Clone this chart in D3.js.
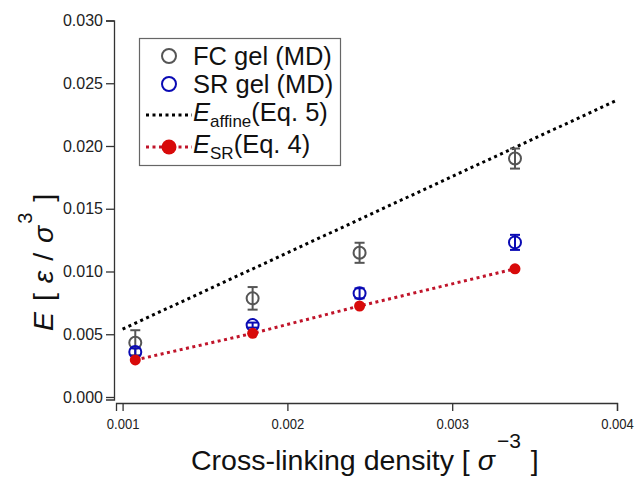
<!DOCTYPE html>
<html>
<head>
<meta charset="utf-8">
<script src="https://cdn.jsdelivr.net/npm/d3@7"></script>
<style>
  html, body { margin: 0; padding: 0; background: #fff; }
  svg { display: block; }
  text { font-family: Arial, "Liberation Sans", sans-serif; }
  .xax text { font-size: 15px; }
  .yax text { font-size: 16px; }
</style>
</head>
<body>
<svg id="chart" width="638" height="479"></svg>
<script>
// ---- data ----
const densities = [0.001077, 0.001789, 0.002438, 0.003381];
const fcGelE    = [0.00432, 0.00786, 0.01149, 0.01900];
const fcGelErr  = [0.00100, 0.00090, 0.00080, 0.00080];
const srGelE    = [0.00358, 0.00573, 0.00826, 0.01232];
const srGelErr  = [0.00030, 0.00020, 0.00040, 0.00060];
const eSR       = [0.00295, 0.00507, 0.00725, 0.01021];
const affineX   = [0.001, 0.004];
const affineY   = [0.00541, 0.02365];
const xTicks    = [0.001, 0.002, 0.003, 0.004];
const yTicks    = [0.000, 0.005, 0.010, 0.015, 0.020, 0.025, 0.030];
const legendLabels = ["FC gel (MD)", "SR gel (MD)"];

const svg = d3.select("#chart");
const x = d3.scaleLinear().domain([0.00096, 0.004]).range([116, 617]);
const y = d3.scaleLinear().domain([-0.0002, 0.030]).range([399.5, 20.5]);

const grayC = "#555555", blueC = "#0a0ab4", redLine = "#c0142a", redDot = "#d80a0a";

// axes
const xAxis = d3.axisBottom(x).tickValues(xTicks).tickFormat(d3.format(".3f")).tickSizeOuter(0).tickSize(8).tickPadding(7);
const gx = svg.append("g").attr("class", "xax").attr("transform", "translate(0,403)").call(xAxis);
gx.selectAll("text").style("font-size", "15px").attr("fill", "#222").attr("transform", "scale(0.87,1)");

const yAxis = d3.axisLeft(y).tickValues(yTicks).tickFormat(d3.format(".3f")).tickSizeOuter(0).tickSize(8).tickPadding(3);
const gy = svg.append("g").attr("class", "yax").attr("transform", "translate(114,0)").call(yAxis);
gy.selectAll("text").style("font-size", "16px").attr("fill", "#222");
[gx, gy].forEach(g => {
  g.select(".domain").attr("stroke", "#333").attr("stroke-width", 1.3);
  g.selectAll(".tick line").attr("stroke", "#333").attr("stroke-width", 1.3);
});

// affine dotted line
svg.append("path")
  .datum(affineX.map((d, i) => [d, affineY[i]]))
  .attr("d", d3.line().x(d => x(d[0])).y(d => y(d[1])))
  .attr("fill", "none").attr("stroke", "#000").attr("stroke-width", 3)
  .attr("stroke-dasharray", "3,3.5");

// error bars + circles
function series(vals, errs, color) {
  const g = svg.append("g");
  vals.forEach((v, i) => {
    const cx = x(densities[i]);
    const y1 = y(v + errs[i]), y2 = y(v - errs[i]);
    g.append("line").attr("x1", cx).attr("x2", cx).attr("y1", y1).attr("y2", y2).attr("stroke", color).attr("stroke-width", 2);
    [y1, y2].forEach(yy => g.append("line").attr("x1", cx - 5).attr("x2", cx + 5).attr("y1", yy).attr("y2", yy).attr("stroke", color).attr("stroke-width", 2));
    g.append("circle").attr("cx", cx).attr("cy", y(v)).attr("r", 6).attr("fill", "none").attr("stroke", color).attr("stroke-width", 2);
  });
}
series(fcGelE, fcGelErr, grayC);
series(srGelE, srGelErr, blueC);

// E_SR dotted line with filled markers
svg.append("path")
  .datum(densities.map((d, i) => [d, eSR[i]]))
  .attr("d", d3.line().x(d => x(d[0])).y(d => y(d[1])))
  .attr("fill", "none").attr("stroke", redLine).attr("stroke-width", 3)
  .attr("stroke-dasharray", "3,3.5");
svg.append("g").selectAll("circle").data(eSR).join("circle")
  .attr("cx", (d, i) => x(densities[i])).attr("cy", d => y(d)).attr("r", 5.5).attr("fill", redDot);

// legend
const lg = svg.append("g");
lg.append("rect").attr("x", 139.5).attr("y", 38.5).attr("width", 201).attr("height", 127)
  .attr("fill", "#fff").attr("stroke", "#666").attr("stroke-width", 1.2);
const rowsY = [56, 84, 115, 147];
const symX = 169, txtX = 193, fs = 25.5, sfs = 17;
lg.append("circle").attr("cx", symX).attr("cy", rowsY[0]).attr("r", 7).attr("fill", "none").attr("stroke", grayC).attr("stroke-width", 2);
lg.append("circle").attr("cx", symX).attr("cy", rowsY[1]).attr("r", 7).attr("fill", "none").attr("stroke", blueC).attr("stroke-width", 2);
lg.append("line").attr("x1", 146).attr("x2", 192).attr("y1", rowsY[2]).attr("y2", rowsY[2])
  .attr("stroke", "#000").attr("stroke-width", 3).attr("stroke-dasharray", "3,3.5");
lg.append("line").attr("x1", 146).attr("x2", 192).attr("y1", rowsY[3]).attr("y2", rowsY[3])
  .attr("stroke", redLine).attr("stroke-width", 3).attr("stroke-dasharray", "3,3.5");
lg.append("circle").attr("cx", symX).attr("cy", rowsY[3]).attr("r", 7.5).attr("fill", redDot);

legendLabels.forEach((t, i) => {
  lg.append("text").attr("x", txtX).attr("y", rowsY[i] + 9).attr("font-size", fs).attr("fill", "#111").text(t);
});
const t3 = lg.append("text").attr("x", txtX).attr("y", rowsY[2] + 6).attr("font-size", fs).attr("fill", "#111");
t3.append("tspan").attr("font-style", "italic").text("E");
t3.append("tspan").attr("font-size", sfs).attr("dy", 6).text("affine");
t3.append("tspan").attr("dy", -6).text("(Eq. 5)");
const t4 = lg.append("text").attr("x", txtX).attr("y", rowsY[3] + 6).attr("font-size", fs).attr("fill", "#111");
t4.append("tspan").attr("font-style", "italic").text("E");
t4.append("tspan").attr("font-size", sfs).attr("dy", 6).text("SR");
t4.append("tspan").attr("dy", -6).text("(Eq. 4)");

// x title
const xt = svg.append("text").attr("x", 191).attr("y", 470).attr("font-size", 28.5).attr("fill", "#111");
xt.append("tspan").text("Cross-linking density [ ");
xt.append("tspan").attr("font-style", "italic").text("σ");
xt.append("tspan").attr("font-size", 21).attr("dy", -22).attr("dx", 2).text("−3");
xt.append("tspan").attr("dy", 22).attr("dx", 2).text(" ]");

// y title
const yt = svg.append("text").attr("transform", "translate(53,331) rotate(-90)").attr("font-size", 28.5).attr("fill", "#111");
yt.append("tspan").attr("font-style", "italic").text("E");
yt.append("tspan").attr("dx", 3).text(" [ ");
yt.append("tspan").attr("font-style", "italic").attr("dx", 2).text("ε");
yt.append("tspan").attr("dx", 2).text(" / ");
yt.append("tspan").attr("font-style", "italic").attr("dx", 2).text("σ");
yt.append("tspan").attr("font-size", 20).attr("dy", -21).attr("dx", 2).text("3");
yt.append("tspan").attr("dy", 21).attr("dx", 3).text(" ]");
</script>
</body>
</html>
